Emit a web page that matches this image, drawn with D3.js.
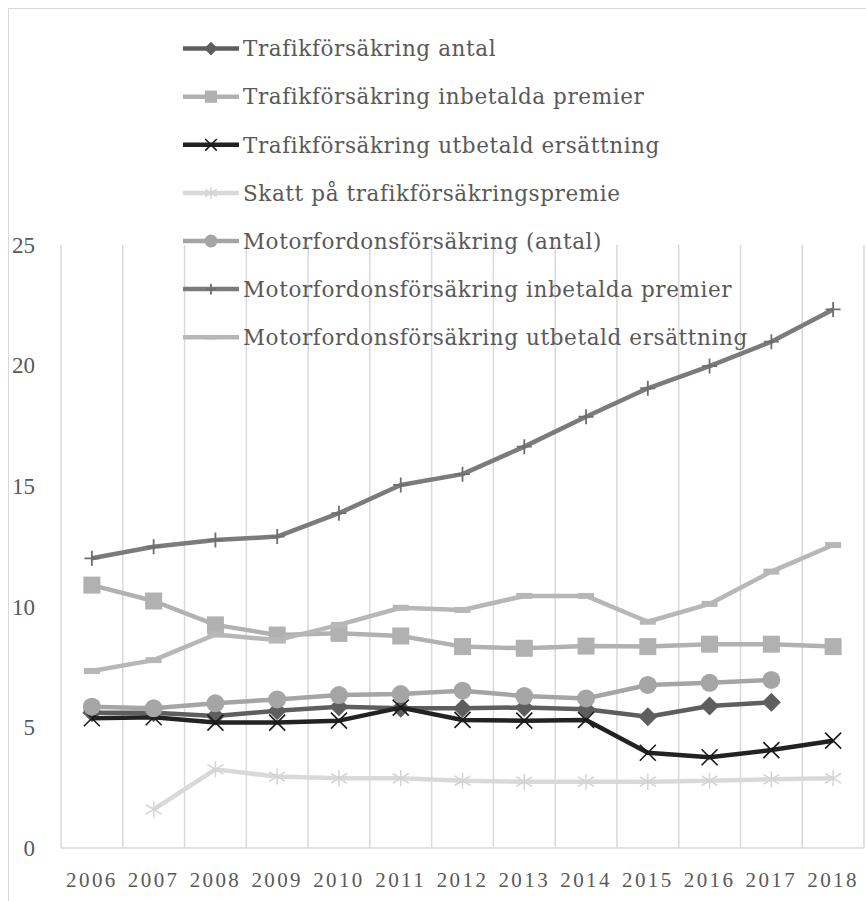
<!DOCTYPE html>
<html>
<head>
<meta charset="utf-8">
<script src="https://cdn.jsdelivr.net/npm/d3@7"></script>
<style>
  html, body { margin: 0; padding: 0; background: #fff; }
  svg { display: block; }
  text { fill: #595959; }
  .serif-narrow { font-family: "Liberation Serif", "DejaVu Serif", serif; }
  .serif-wide { font-family: "DejaVu Serif", "Liberation Serif", serif; }
</style>
</head>
<body>
<svg id="chart" width="866" height="901"></svg>
<script>
// Years on the category axis
const years = ["2006","2007","2008","2009","2010","2011","2012","2013","2014","2015","2016","2017","2018"];
const yTicks = [0, 5, 10, 15, 20, 25];

// Series values (null = no observation)
const trafikAntal       = [5.61, 5.61, 5.47, 5.69, 5.86, 5.79, 5.79, 5.83, 5.75, 5.44, 5.89, 6.04, null];
const trafikPremier     = [10.90, 10.24, 9.25, 8.83, 8.90, 8.79, 8.35, 8.28, 8.37, 8.35, 8.45, 8.45, 8.35];
const trafikErsattning  = [5.38, 5.42, 5.20, 5.20, 5.28, 5.82, 5.31, 5.28, 5.31, 3.95, 3.76, 4.06, 4.45];
const skatt             = [null, 1.60, 3.26, 2.96, 2.89, 2.89, 2.79, 2.75, 2.75, 2.75, 2.79, 2.85, 2.89];
const motorAntal        = [5.86, 5.79, 6.00, 6.16, 6.34, 6.38, 6.52, 6.30, 6.20, 6.76, 6.85, 6.97, null];
const motorPremier      = [12.01, 12.49, 12.77, 12.91, 13.88, 15.05, 15.50, 16.64, 17.88, 19.06, 19.98, 20.99, 22.33];
const motorErsattning   = [7.34, 7.79, 8.85, 8.62, 9.25, 9.96, 9.87, 10.45, 10.45, 9.38, 10.12, 11.46, 12.56];

const seriesNames = [
  "Trafikförsäkring antal",
  "Trafikförsäkring inbetalda premier",
  "Trafikförsäkring utbetald ersättning",
  "Skatt på trafikförsäkringspremie",
  "Motorfordonsförsäkring (antal)",
  "Motorfordonsförsäkring inbetalda premier",
  "Motorfordonsförsäkring utbetald ersättning"
];
const seriesValues = [trafikAntal, trafikPremier, trafikErsattning, skatt, motorAntal, motorPremier, motorErsattning];

// Per-series styling
const styles = [
  { color: "#5e5e5e", marker: "diamond",  mcolor: "#5e5e5e" },
  { color: "#b1b1b1", marker: "square",   mcolor: "#b1b1b1" },
  { color: "#222222", marker: "x",        mcolor: "#1a1a1a" },
  { color: "#d9d9d9", marker: "star",     mcolor: "#d4d4d4" },
  { color: "#a5a5a5", marker: "circle",   mcolor: "#a5a5a5" },
  { color: "#7b7b7b", marker: "plus",     mcolor: "#6e6e6e" },
  { color: "#b7b7b7", marker: "dash",     mcolor: "#b7b7b7" }
];

const svg = d3.select("#chart");

// Chart area frame
svg.append("rect")
  .attr("x", 8.5).attr("y", 8.5)
  .attr("width", 900).attr("height", 950)
  .attr("fill", "none").attr("stroke", "#d9d9d9").attr("stroke-width", 1);

const plot = { left: 61, right: 864, top: 245, bottom: 848 };

const x = d3.scaleBand().domain(years).range([plot.left, plot.right]).padding(0);
const y = d3.scaleLinear().domain([0, 25]).range([plot.bottom, plot.top]);
const cx = d => x(d) + x.bandwidth() / 2;

// Vertical category gridlines
const bounds = years.map(d => x(d)).concat([plot.right]);
svg.append("g").selectAll("line").data(bounds).join("line")
  .attr("x1", d => d).attr("x2", d => d)
  .attr("y1", plot.top).attr("y2", plot.bottom)
  .attr("stroke", "#d9d9d9").attr("stroke-width", 1.5);

// Category axis line
svg.append("line")
  .attr("x1", plot.left).attr("x2", plot.right)
  .attr("y1", plot.bottom).attr("y2", plot.bottom)
  .attr("stroke", "#d9d9d9").attr("stroke-width", 1.5);

// Value axis labels
const yAxis = d3.axisLeft(y).tickValues(yTicks).tickSize(0).tickPadding(0);
const gy = svg.append("g").attr("transform", "translate(35,0)").call(yAxis);
gy.select(".domain").remove();
gy.attr("font-family", null).attr("font-size", null);
gy.selectAll("text")
  .attr("class", "serif-narrow")
  .attr("font-size", 23).attr("dy", "0.32em");

// Category axis labels
const xAxis = d3.axisBottom(x).tickSize(0).tickPadding(0);
const gx = svg.append("g").attr("transform", `translate(0,${plot.bottom})`).call(xAxis);
gx.select(".domain").remove();
gx.attr("font-family", null).attr("font-size", null);
gx.selectAll("text")
  .attr("class", "serif-narrow")
  .attr("font-size", 21)
  .attr("letter-spacing", "2.4px")
  .attr("dy", "1.85em");

// Marker drawing
function drawMarker(g, kind, color, s) {
  // s = scale factor for marker size
  if (kind === "circle") {
    g.append("circle").attr("r", 9 * s).attr("fill", color);
  } else if (kind === "square") {
    g.append("rect").attr("x", -8.5 * s).attr("y", -8.5 * s)
      .attr("width", 17 * s).attr("height", 17 * s).attr("fill", color);
  } else if (kind === "diamond") {
    const r = 9.5 * s;
    g.append("path").attr("d", `M0,${-r}L${r},0L0,${r}L${-r},0Z`).attr("fill", color);
  } else if (kind === "x") {
    const r = 8 * s;
    g.append("path").attr("d", `M${-r},${-r}L${r},${r}M${-r},${r}L${r},${-r}`)
      .attr("stroke", color).attr("stroke-width", 1.6).attr("fill", "none");
  } else if (kind === "plus") {
    const r = 7.5 * s;
    g.append("path").attr("d", `M0,${-r}L0,${r}M${-r},0L${r},0`)
      .attr("stroke", color).attr("stroke-width", 1.8).attr("fill", "none");
  } else if (kind === "star") {
    const r = 8 * s;
    g.append("path").attr("d", `M${-r},${-r * 0.6}L${r},${r * 0.6}M${-r},${r * 0.6}L${r},${-r * 0.6}M0,${-r}L0,${r}`)
      .attr("stroke", color).attr("stroke-width", 1.5).attr("fill", "none");
  } else if (kind === "dash") {
    g.append("rect").attr("x", -8 * s).attr("y", -3 * s)
      .attr("width", 16 * s).attr("height", 6 * s).attr("fill", color);
  }
}

// Series lines and markers
const line = d3.line()
  .defined(d => d.v !== null)
  .x(d => cx(d.year))
  .y(d => y(d.v));

seriesValues.forEach((vals, i) => {
  const st = styles[i];
  const data = years.map((yr, j) => ({ year: yr, v: vals[j] }));
  const g = svg.append("g");
  g.append("path").datum(data)
    .attr("d", line)
    .attr("fill", "none")
    .attr("stroke", st.color)
    .attr("stroke-width", 4.5)
    .attr("stroke-linejoin", "round");
  data.filter(d => d.v !== null).forEach(d => {
    const mg = g.append("g").attr("transform", `translate(${cx(d.year)},${y(d.v)})`);
    drawMarker(mg, st.marker, st.mcolor, 1);
  });
});

// Legend
const legend = svg.append("g");
seriesNames.forEach((name, i) => {
  const st = styles[i];
  const ly = 48.6 + i * 48.1;
  const row = legend.append("g").attr("transform", `translate(0,${ly})`);
  row.append("line")
    .attr("x1", 183).attr("x2", 239).attr("y1", 0).attr("y2", 0)
    .attr("stroke", st.color).attr("stroke-width", 4.5);
  const mg = row.append("g").attr("transform", "translate(211,0)");
  drawMarker(mg, st.marker, st.mcolor, 0.72);
  row.append("text")
    .attr("class", "serif-wide")
    .attr("x", 243).attr("y", 0).attr("dy", "0.36em")
    .attr("font-size", 21.5)
    .attr("letter-spacing", "0.6px")
    .text(name);
});
</script>
</body>
</html>
